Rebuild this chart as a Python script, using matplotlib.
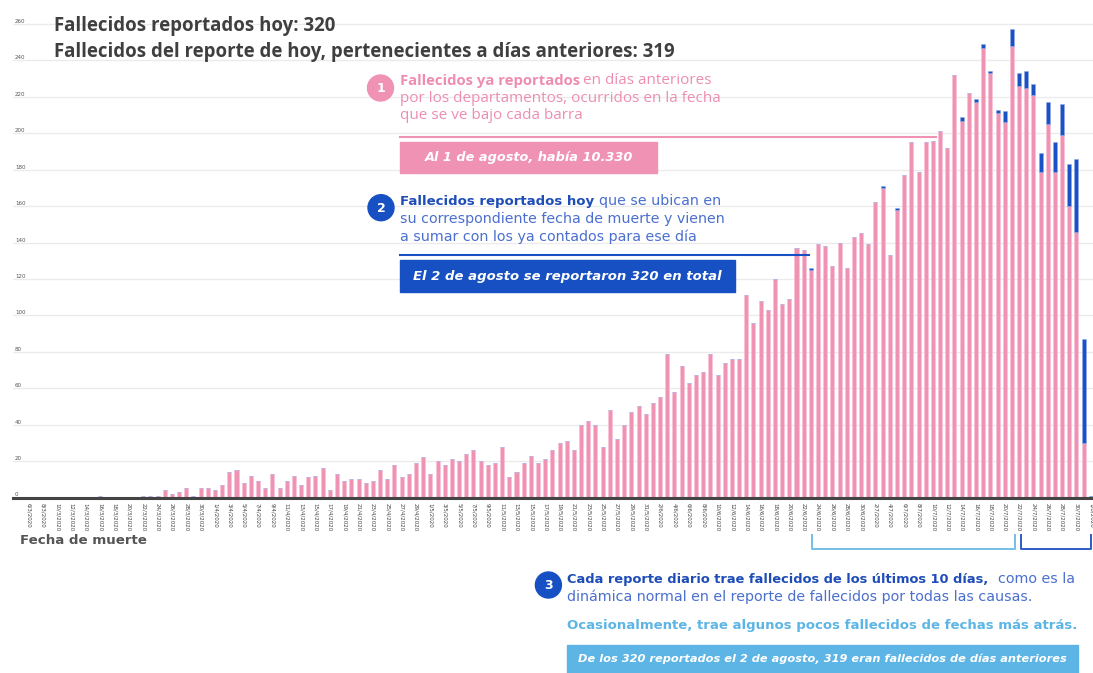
import datetime as dt
import numpy as np
import matplotlib
matplotlib.use('Agg')
import matplotlib.pyplot as plt
from matplotlib.patches import Circle, Rectangle

# datos (fallecidos por fecha de muerte)
inicio = dt.date(2020, 3, 6)
n_dias = 149
fechas = [inicio + dt.timedelta(days=k) for k in range(n_dias)]
etiquetas = [f"{d.day}/{d.month}/{d.year}" for d in fechas]

ya_reportados = ([0] * 10 + [1] + [0] * 5 +
    [1, 1, 1, 4, 2, 3, 5, 1, 5, 5, 4, 7, 14, 15, 8, 12, 9, 5, 13, 5, 9, 12, 7, 11, 12] +
    [16, 4, 13, 9, 10, 10, 8, 9, 15, 10, 18, 11, 13, 19, 22, 13, 20, 18, 21, 20,
     24, 26, 20, 18, 19, 28, 11, 14, 19, 23, 19, 21, 26, 30, 31, 26, 40, 42, 40] +
    [28, 48, 32, 40, 47, 50, 46, 52, 55, 79, 58, 72, 63, 67, 69, 79, 67, 74, 76, 76] +
    [111, 96, 108, 103, 120, 106, 109, 137, 136, 125, 139, 138, 127, 140, 126,
     143, 145, 139, 162, 170, 133, 158, 177, 195, 179] +
    [195, 196, 201, 192, 232, 207, 222, 217, 247, 233, 211, 206, 248, 226, 225,
     221, 179, 205, 179, 199, 160, 146, 30, 0])

reportados_hoy = ([0] * 109 + [1] + [0] * 9 + [1, 0, 1] + [0] * 8 +
    [2, 0, 2, 2, 1, 2, 6, 9, 7, 9, 6, 10, 12, 16, 17, 23, 40, 57, 1])

y_ticks = list(range(0, 261, 20))

ROSA = '#F092B4'
AZUL = '#1A52C4'
AZUL_OSC = '#1650C2'
CELESTE = '#5DB5E5'
GRIS = '#3F3F3F'

W, H = 1093, 673
fig = plt.figure(figsize=(W / 100, H / 100), dpi=100)

# ejes del grafico en coordenadas de pixel de la imagen
y0, y_top = 497.5, 5.8
ax = fig.add_axes([13 / W, (H - y0) / H, 1080 / W, (y0 - y_top) / H])
x = np.arange(n_dias)
ax.bar(x, ya_reportados, width=0.56, color=ROSA, edgecolor='#f7c3d6', linewidth=0.4, zorder=2)
ax.bar(x, reportados_hoy, bottom=ya_reportados, width=0.56, color=AZUL,
       edgecolor='#8fa9e6', linewidth=0.4, zorder=2)
ax.set_xlim(-2.13, 148.3)
ax.set_ylim(0, 270)

ax.set_yticks(y_ticks)
ax.yaxis.grid(True, color='#ebebeb', lw=1)
ax.set_axisbelow(True)
ax.tick_params(axis='y', length=0, labelsize=4, labelcolor='#555555', pad=-1.5)
for lbl in ax.get_yticklabels():
    lbl.set_horizontalalignment('left')
    lbl.set_verticalalignment('bottom')

ax.set_xticks(x[::2])
ax.set_xticklabels(etiquetas[::2], rotation=-90, fontsize=4, color='#444444')
ax.tick_params(axis='x', length=0, pad=4)
for s in ['top', 'right', 'left']:
    ax.spines[s].set_visible(False)
ax.spines['bottom'].set_color('#444444')
ax.spines['bottom'].set_linewidth(2.2)

# capa de anotaciones en pixeles
ov = fig.add_axes([0, 0, 1, 1])
ov.set_xlim(0, W)
ov.set_ylim(H, 0)
ov.axis('off')


def tamano(texto, ancho, **kw):
    t = ov.text(0, 0, texto, fontsize=10, **kw)
    w = t.get_window_extent(fig.canvas.get_renderer()).width
    t.remove()
    return 10 * ancho / w


def renglon(x0, y, partes, fam, gap=3):
    # partes: (texto, color, peso, tamano)
    t = None
    for texto, color, peso, size in partes:
        if t is None:
            t = ov.text(x0, y, texto, color=color, fontweight=peso, fontsize=size,
                        family=fam, va='center', ha='left')
        else:
            t = ov.annotate(texto, xy=(1, 0), xycoords=t, xytext=(gap, 0),
                            textcoords='offset pixels', color=color, fontweight=peso,
                            fontsize=size, family=fam, va='bottom', ha='left')
    return t


# titulo
f_tit = 'Open Sans'
s_tit = tamano('Fallecidos del reporte de hoy, pertenecientes a días anteriores: 319', 623,
               family=f_tit, fontweight='bold')
renglon(54, 25.7, [('Fallecidos reportados hoy: 320', GRIS, 'bold', s_tit)], f_tit)
renglon(54, 51.7, [('Fallecidos del reporte de hoy, pertenecientes a días anteriores: 319',
                    GRIS, 'bold', s_tit)], f_tit)

# anotacion 1
ROSA_TXT = '#EE8DB2'
s1 = tamano('por los departamentos, ocurridos en la fecha', 319.5, family=f_tit)
s1b = tamano('Fallecidos ya reportados', 182, family=f_tit, fontweight='bold')
renglon(400, 80.7, [('Fallecidos ya reportados', ROSA_TXT, 'bold', s1b),
                    ('en días anteriores', ROSA_TXT, 'normal', s1)], f_tit)
renglon(400, 98.3, [('por los departamentos, ocurridos en la fecha', ROSA_TXT, 'normal', s1)], f_tit)
renglon(400, 115.7, [('que se ve bajo cada barra', ROSA_TXT, 'normal', s1)], f_tit)
ov.add_patch(Circle((380.5, 88), 13, color=ROSA))
ov.text(380.5, 88.5, '1', color='white', fontsize=9, fontweight='bold', ha='center', va='center')
ov.plot([400, 936], [136.5, 136.5], color=ROSA, lw=1.5)
ov.add_patch(Rectangle((400, 141.7), 257, 31.6, color=ROSA))
f_mont = 'DejaVu Sans'
s_b1 = tamano('Al 1 de agosto, había 10.330', 208, family=f_mont, fontweight='bold', style='italic')
ov.text(529, 157.5, 'Al 1 de agosto, había 10.330', color='white', fontsize=s_b1, family=f_mont,
        fontweight='bold', style='italic', ha='center', va='center')

# anotacion 2
AZUL_TXT_B = '#1E4DB7'
AZUL_TXT = '#4A6FCF'
s2 = tamano('su correspondiente fecha de muerte y vienen', 325.7, family=f_mont)
s2b = tamano('Fallecidos reportados hoy', 194, family=f_mont, fontweight='bold')
renglon(400, 201.7, [('Fallecidos reportados hoy', AZUL_TXT_B, 'bold', s2b),
                     ('que se ubican en', AZUL_TXT, 'normal', s2)], f_mont, gap=5)
renglon(400, 219.3, [('su correspondiente fecha de muerte y vienen', AZUL_TXT, 'normal', s2)], f_mont)
renglon(400, 236.7, [('a sumar con los ya contados para ese día', AZUL_TXT, 'normal', s2)], f_mont)
ov.add_patch(Circle((381, 207.7), 13, color=AZUL_OSC))
ov.text(381, 208.2, '2', color='white', fontsize=9, fontweight='bold', ha='center', va='center')
ov.plot([400, 809], [254.5, 254.5], color=AZUL_OSC, lw=1.5)
ov.add_patch(Rectangle((400, 260.3), 334.7, 31.4, color=AZUL_OSC))
s_b2 = tamano('El 2 de agosto se reportaron 320 en total', 307, family=f_mont, fontweight='bold', style='italic')
ov.text(567, 276.7, 'El 2 de agosto se reportaron 320 en total', color='white', fontsize=s_b2,
        family=f_mont, fontweight='bold', style='italic', ha='center', va='center')

# eje x
s_fm = tamano('Fecha de muerte', 127, family=f_mont, fontweight='bold')
ov.text(20, 540, 'Fecha de muerte', color='#555555', fontsize=s_fm, family=f_mont,
        fontweight='bold', ha='left', va='center')
ov.plot([812, 812, 1015, 1015], [535, 549, 549, 535], color='#74BFE8', lw=1.4)
ov.plot([1021, 1021, 1091, 1091], [535, 549, 549, 535], color='#2F5BC4', lw=1.4)

# anotacion 3
s3 = tamano('dinámica normal en el reporte de fallecidos por todas las causas.', 464, family=f_mont)
s3b = tamano('Cada reporte diario trae fallecidos de los últimos 10 días,', 421,
             family=f_mont, fontweight='bold')
renglon(567, 579.3, [('Cada reporte diario trae fallecidos de los últimos 10 días,', AZUL_TXT_B, 'bold', s3b),
                     ('como es la', AZUL_TXT, 'normal', s3)], f_mont, gap=10)
renglon(567, 596.7, [('dinámica normal en el reporte de fallecidos por todas las causas.',
                      AZUL_TXT, 'normal', s3)], f_mont)
ov.add_patch(Circle((548.4, 585), 13, color=AZUL_OSC))
ov.text(548.4, 585.5, '3', color='white', fontsize=9, fontweight='bold', ha='center', va='center')
s_oc = tamano('Ocasionalmente, trae algunos pocos fallecidos de fechas más atrás.', 508.6,
              family=f_mont, fontweight='bold')
ov.text(567, 625, 'Ocasionalmente, trae algunos pocos fallecidos de fechas más atrás.', color=CELESTE,
        fontsize=s_oc, family=f_mont, fontweight='bold', ha='left', va='center')
ov.add_patch(Rectangle((567, 645), 510.5, 28, color=CELESTE))
txt_b3 = 'De los 320 reportados el 2 de agosto, 319 eran fallecidos de días anteriores'
s_b3 = tamano(txt_b3, 489.5, family=f_mont, fontweight='bold', style='italic')
ov.text(822, 659, txt_b3, color='white', fontsize=s_b3, family=f_mont, fontweight='bold',
        style='italic', ha='center', va='center')

fig.savefig('out.png', dpi=100)
